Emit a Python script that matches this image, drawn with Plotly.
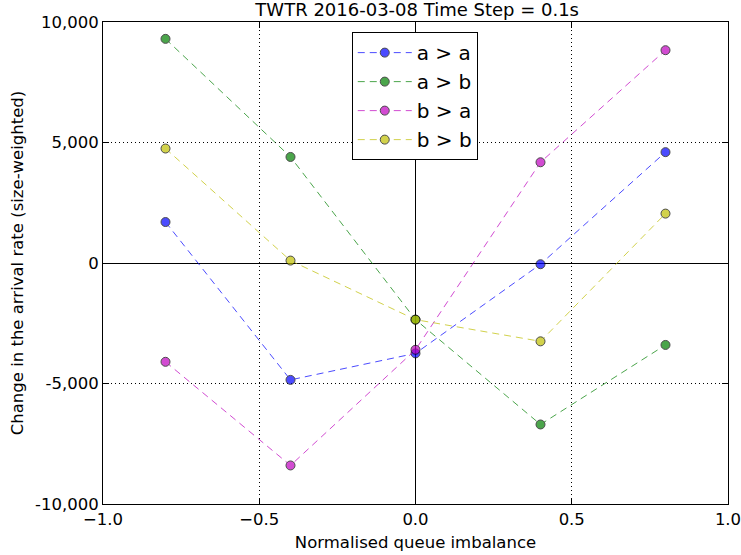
import plotly.graph_objects as go

x_vals = [-0.8, -0.4, 0.0, 0.4, 0.8]
series_names = ["a > a", "a > b", "b > a", "b > b"]
aa = [1700, -4850, -3750, -50, 4600]
ab = [9300, 4400, -2350, -6700, -3400]
ba = [-4100, -8400, -3600, 4180, 8830]
bb = [4750, 100, -2350, -3250, 2050]
series_values = [aa, ab, ba, bb]
colors = ["rgb(0,0,255)", "rgb(0,128,0)", "rgb(191,0,191)", "rgb(191,191,0)"]

x_tickvals = [-1.0, -0.5, 0.0, 0.5, 1.0]
x_ticktext = ["\u22121.0", "\u22120.5", "0.0", "0.5", "1.0"]
y_tickvals = [-10000, -5000, 0, 5000, 10000]
y_ticktext = ["-10,000", "-5,000", "0", "5,000", "10,000"]

fig = go.Figure()
for i, (name, vals, c) in enumerate(zip(series_names, series_values, colors)):
    fig.add_trace(go.Scatter(
        x=x_vals, y=vals, name=name, mode="lines+markers", legendgroup=f"g{i}",
        line=dict(color=c, width=1, dash="7px,5px"),
        marker=dict(color=c, size=9, line=dict(color="black", width=1)),
        opacity=0.7,
    ))

font = "DejaVu Sans, sans-serif"
axis_common = dict(
    showline=True, linecolor="black", linewidth=1, mirror="ticks",
    ticks="inside", ticklen=6, tickcolor="black", automargin=False,
    ticklabeloverflow="allow",
    showgrid=True, gridcolor="black", griddash="1px,3px", gridwidth=1,
    zeroline=True, zerolinecolor="black", zerolinewidth=1.3,
    tickfont=dict(family=font, size=16.5, color="black"),
)
fig.update_xaxes(range=[-1, 1], tickvals=x_tickvals, ticktext=x_ticktext,
                 title=dict(text="Normalised queue imbalance", font=dict(family=font, size=16.5, color="black"), standoff=8),
                 **axis_common)
fig.update_yaxes(range=[-10000, 10000], tickvals=y_tickvals, ticktext=y_ticktext,
                 title=dict(text="Change in the arrival rate (size-weighted)", font=dict(family=font, size=16.5, color="black"), standoff=7),
                 **axis_common)

fig.update_layout(
    width=741, height=555,
    margin=dict(l=103, r=13, t=22, b=51),
    plot_bgcolor="white", paper_bgcolor="white",
    title=dict(text="TWTR 2016-03-08 Time Step = 0.1s", x=0.563, xanchor="center", y=1 - 10 / 555, yanchor="middle",
               font=dict(family=font, size=18, color="black")),
    legend=dict(x=0.398, y=0.979, xanchor="left", yanchor="top",
                bordercolor="black", borderwidth=1, bgcolor="white",
                font=dict(family=font, size=20, color="black"),
                itemwidth=54, tracegroupgap=0),
    showlegend=True,
)

fig.write_html("out.html")
